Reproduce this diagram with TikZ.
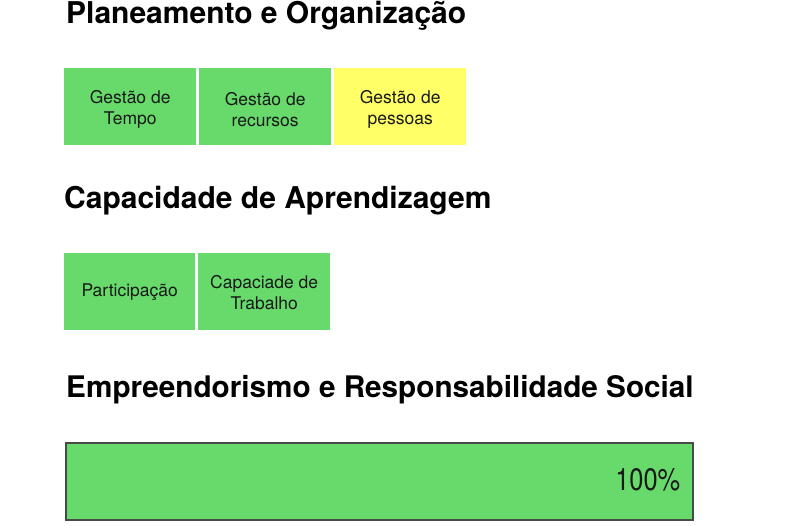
\documentclass[tikz,border=0pt]{standalone}
\usepackage{fontspec}
\setmainfont{TeX Gyre Heros}
\definecolor{boxgreen}{RGB}{103,218,107}
\definecolor{boxyellow}{RGB}{255,255,102}
\definecolor{barborder}{RGB}{70,75,70}
\begin{document}
\begin{tikzpicture}[x=1pt,y=-1pt,
  title/.style={anchor=base west,inner sep=0pt,font=\fontsize{30}{33}\selectfont\bfseries},
  tile/.style={anchor=north west,minimum width=132pt,minimum height=77pt,inner sep=0pt},
  greentile/.style={tile,fill=boxgreen},
  yellowtile/.style={tile,fill=boxyellow},
  tiletext/.style={inner sep=0pt,align=center,font=\fontsize{17.5}{21}\selectfont,text=black!90}]
\useasboundingbox (0,0) rectangle (799,526);
\node[title] (t1) at (66,24) {Planeamento e Organização};
\node[greentile] (g1) at (64,68) {};
\node[greentile] (g2) at (199,68) {};
\node[yellowtile] (g3) at (334,68) {};
\node[tiletext] (g1t) at ([yshift=-3pt]g1.center) {Gestão de\\Tempo};
\node[tiletext] (g2t) at ([yshift=-3pt]g2.center) {Gestão de\\recursos};
\node[tiletext] (g3t) at ([yshift=-3pt]g3.center) {Gestão de\\pessoas};
\node[title] (t2) at (64,209) {Capacidade de Aprendizagem};
\node[greentile,minimum width=131pt] (c1) at (64,253) {};
\node[greentile] (c2) at (198,253) {};
\node[tiletext] (c1t) at ([yshift=0pt]c1.center) {Participação};
\node[tiletext] (c2t) at ([yshift=-1pt]c2.center) {Capaciade de\\Trabalho};
\node[title,font=\fontsize{29.7}{33}\selectfont\bfseries] (t3) at (66,397) {Empreendorismo e Responsabilidade Social};
\node[anchor=north west,minimum width=627pt,minimum height=77pt,inner sep=0pt,
  fill=boxgreen,draw=barborder,line width=1.5pt] (bar) at (65,442) {};
\node[anchor=east,inner sep=0pt,font=\fontsize{31}{31}\selectfont,text=black!90]
  (pct) at ([xshift=-13pt,yshift=1.5pt]bar.east) {\scalebox{0.82}[1]{100\%}};
\end{tikzpicture}
\end{document}
